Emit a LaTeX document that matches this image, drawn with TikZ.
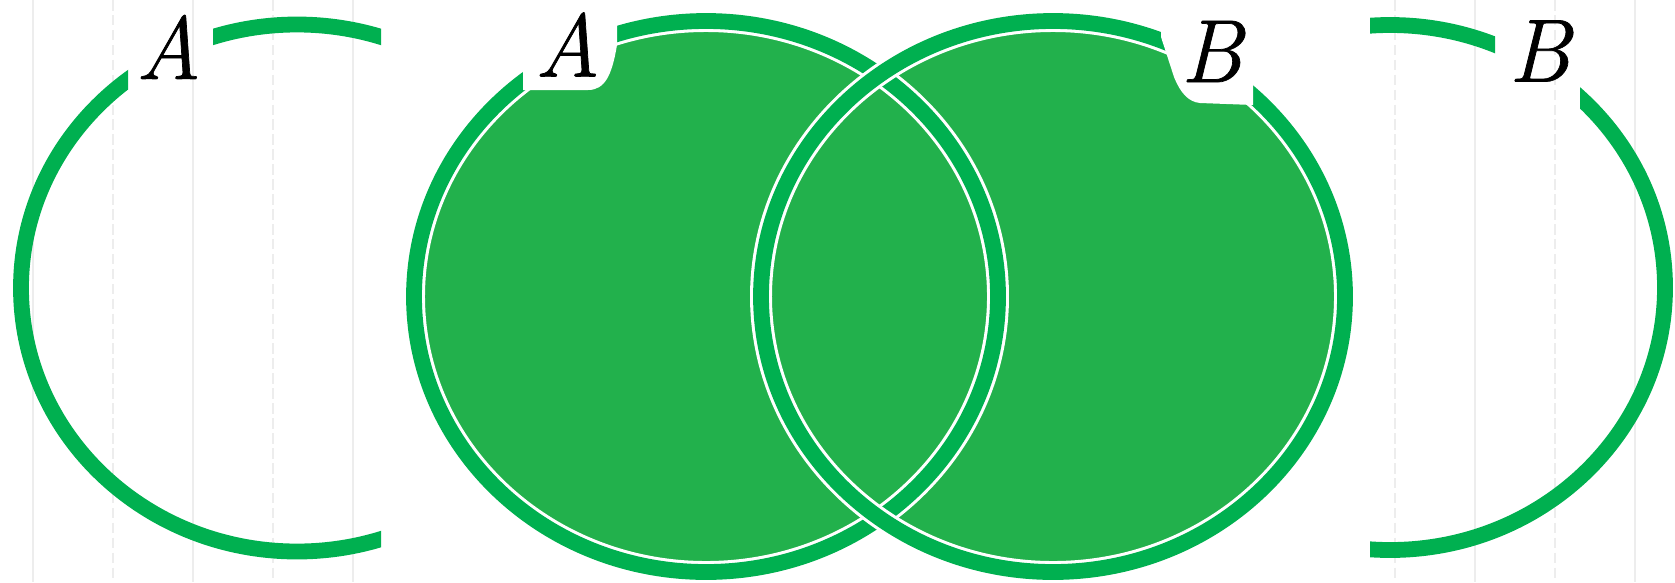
\documentclass[tikz,border=0pt]{standalone}
\usepackage{fontspec}
\newfontfamily\labfont{Latin Modern Roman}[FakeBold=0.8]
\usepackage{tikz}
\definecolor{ringg}{HTML}{00B050}
\definecolor{fillg}{HTML}{22B14C}
\definecolor{gridc}{HTML}{EDEDED}
\begin{document}
\begin{tikzpicture}[x=0.02cm,y=-0.02cm,
  gridsolid/.style={draw=gridc, line width=1.1pt},
  griddash/.style={draw=gridc, line width=1.1pt, dash pattern=on 6pt off 2.5pt},
  arcline/.style={draw=ringg, line width=9pt},
  ringwhite/.style={draw=white, line width=12.5pt},
  ringgreen/.style={draw=ringg, line width=9pt},
  lab/.style={inner sep=0pt, font=\labfont\fontsize{51}{60}\selectfont\itshape}]
\useasboundingbox (0,0) rectangle (1675,582);
% faint grid
\foreach \k in {0,2,4,18,20} \draw[gridsolid] ({33+80.1*\k},0) -- ({33+80.1*\k},582);
\foreach \k in {1,3,17,19} \draw[griddash] ({33+80.1*\k},0) -- ({33+80.1*\k},582);
% outer open sets
\coordinate (cl) at (297,288);
\coordinate (cr) at (1390,287.5);
\begin{scope}[even odd rule]
  \clip (-10,-10) rectangle (381,600) (128,-10) rectangle (213,100);
  \draw[arcline] (cl) ellipse [x radius=276, y radius=263.5];
\end{scope}
\begin{scope}[even odd rule]
  \clip (1370,-10) rectangle (1690,600) (1495,-10) rectangle (1580,110);
  \draw[arcline] (cr) ellipse [x radius=275, y radius=262.5];
\end{scope}
% middle union
\coordinate (ca) at (706,296.5);
\coordinate (cb) at (1053,296.5);
\fill[fillg] (ca) ellipse [x radius=292, y radius=275.5];
\fill[fillg] (cb) ellipse [x radius=292, y radius=275.5];
\draw[ringwhite] (ca) ellipse [x radius=292, y radius=275.5];
\draw[ringgreen] (ca) ellipse [x radius=292, y radius=275.5];
\draw[ringwhite] (cb) ellipse [x radius=292, y radius=275.5];
\draw[ringgreen] (cb) ellipse [x radius=292, y radius=275.5];
% white patches behind the middle labels
\fill[white] (523,-5) -- (523,90) -- (588,90) .. controls (605,90) and (612,75) .. (617,45) -- (617,-5) -- cycle;
\fill[white] (1161,-5) -- (1161,37) -- (1174,77) .. controls (1180,92) and (1188,102) .. (1200,103) -- (1253,105) -- (1253,-5) -- cycle;
% labels
\node[lab] (labl) at (168.5,47) {A};
\node[lab] (laba) at (567.5,44.5) {A};
\node[lab] (labb) at (1211.5,51.5) {B};
\node[lab] (labr) at (1539.5,51) {B};
\end{tikzpicture}
\end{document}
